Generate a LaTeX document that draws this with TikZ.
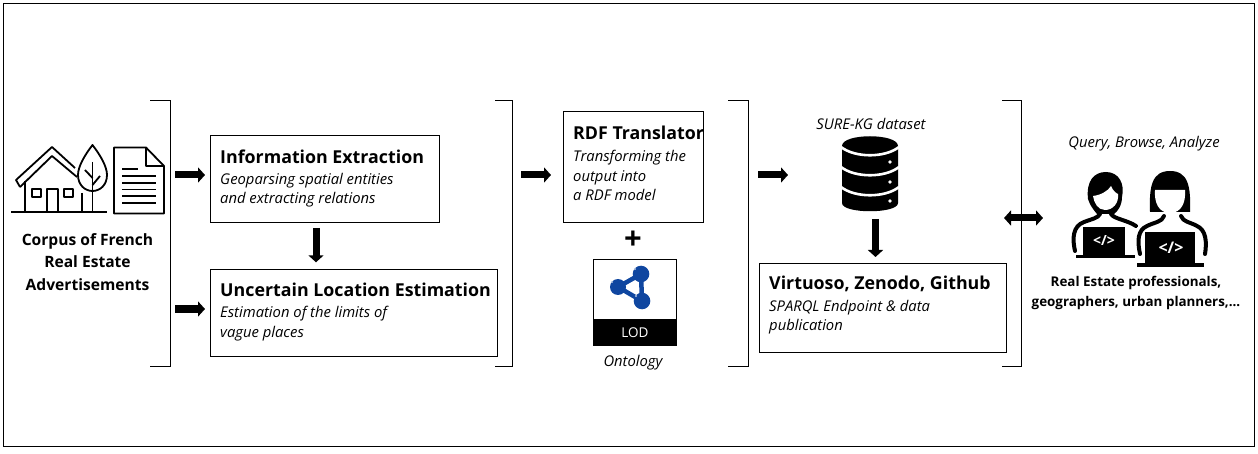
\documentclass[tikz,border=0pt]{standalone}
\usepackage{fontspec}
\setmainfont{Open Sans}
\usetikzlibrary{arrows.meta}
\tikzset{
 x=1pt,y=-1pt,
 boxn/.style={draw=black,line width=1.1pt,inner sep=0pt,anchor=north west},
 ttl/.style={anchor=west,inner sep=0pt,font=\fontsize{17.8}{20}\selectfont\bfseries},
 sub/.style={anchor=west,inner sep=0pt,align=left,font=\fontsize{14.8}{19.3}\selectfont\itshape},
 captxt/.style={inner sep=0pt,align=center,font=\fontsize{14.8}{19.5}\selectfont\itshape},
 boldtxt/.style={inner sep=0pt,align=center,font=\fontsize{15.6}{22.5}\selectfont\bfseries},
 brk/.style={draw=black,line width=0.9pt},
 blk/.style={draw=black,line width=7pt,-{Triangle[length=7pt,width=15pt]}},
 blkb/.style={draw=black,line width=7pt,{Triangle[length=7pt,width=15pt]}-{Triangle[length=7pt,width=15pt]}},
 ico/.style={draw=black,line width=1.8pt,line join=round},
 body/.style={draw=black,line width=4pt,line join=round,line cap=round},
}
\definecolor{lodblue}{RGB}{15,70,160}
\begin{document}
\begin{tikzpicture}
\useasboundingbox (0,0) rectangle (1258,454);
\fill[white] (0,0) rectangle (1258,454);
\draw[black,line width=1pt] (3.5,3.5) rectangle (1254,446);
% brackets
\draw[brk] (150,100) -- (170,100) -- (170,366) -- (150,366);
\draw[brk] (495,100) -- (512,100) -- (512,366) -- (495,366);
\draw[brk] (728,100) -- (748,100) -- (748,366) -- (728,366);
\draw[brk] (1002,100) -- (1021,100) -- (1021,366) -- (1002,366);
% boxes
\node[boxn,minimum width=228.5pt,minimum height=86.5pt] (ie) at (210,135.3) {};
\node[boxn,minimum width=287pt,minimum height=86.5pt] (ule) at (210,269.3) {};
\node[boxn,minimum width=139.5pt,minimum height=110.5pt] (rdf) at (563,111.3) {};
\node[boxn,minimum width=246.5pt,minimum height=88.5pt] (vir) at (759,263.3) {};
\node[ttl] (t1) at (220,157) {Information Extraction};
\node[sub] (s1) at (220,190.5) {Geoparsing spatial entities\\and extracting relations};
\node[ttl] (t2) at (220,290) {Uncertain Location Estimation};
\node[sub] (s2) at (220,323.5) {Estimation of the limits of\\vague places};
\node[ttl] (t3) at (573,133) {RDF Translator};
\node[sub] (s3) at (573,175.5) {Transforming the\\output into\\a RDF model};
\node[ttl] (t4) at (769,284) {Virtuoso, Zenodo, Github};
\node[sub] (s4) at (769,317) {SPARQL Endpoint \& data\\publication};
% captions
\node[boldtxt] (corpus) at (87.5,262) {Corpus of French\\Real Estate\\Advertisements};
\node[captxt] (sure) at (871,124) {SURE-KG dataset};
\node[captxt] (qba) at (1144,143.5) {Query, Browse, Analyze};
\node[captxt] (onto) at (633,362.5) {Ontology};
\node[inner sep=0pt,font=\fontsize{13.4}{20}\selectfont\bfseries,align=center] (users) at (1136,293) {Real Estate professionals,\\geographers, urban planners,...};
\node[inner sep=0pt,font=\fontsize{31}{31}\selectfont\bfseries] (plus) at (633,240) {+};
% LOD
\node[boxn,minimum width=83pt,minimum height=86pt] (lod) at (593,259.3) {};
\fill[black] (592.5,319) rectangle (677,346);
\node[inner sep=0pt,text=white,font=\fontsize{13.5}{15}\selectfont] (lodt) at (635,332.5) {LOD};
\draw[lodblue,line width=4.5pt,line join=round] (618,287) -- (641,274) -- (642,301) -- cycle;
\fill[lodblue] (618,287) circle (8pt) (641,274) circle (8.3pt) (642,301) circle (8.3pt);
\fill[white!70!lodblue] (612,282) circle (1.2pt) (635,269) circle (1.2pt) (636,296) circle (1.2pt);
% arrows
\coordinate (a1s) at (175,175); \coordinate (a2s) at (175,309);
\coordinate (a3s) at (521,175); \coordinate (a4s) at (758,175);
\coordinate (dbb) at (875.5,219); \coordinate (d1) at (316,228);
\coordinate (ds) at (1004,218); \coordinate (de) at (1043,218);
\draw[blk,shorten >=5pt] (a1s) -- (a1s -| ie.west);
\draw[blk,shorten >=5pt] (a2s) -- (a2s -| ule.west);
\draw[blk] (a3s) -- (551,175);
\draw[blk] (a4s) -- (788,175);
\draw[blk,shorten >=7pt] (d1) -- (d1 |- ule.north);
\draw[blk] (dbb) -- (875.5,257);
\draw[blkb] (ds) -- (de);
% house
\begin{scope}[ico]
\draw (11,212) -- (107,212);
\draw (20,187) -- (16,180) -- (52,147) -- (75,168);
\draw (20,187) -- (52,156) -- (77,177);
\draw (25,181) -- (25,212);
\draw (82,193) -- (82,212);
\draw (47,212) -- (47,189) -- (58,189) -- (58,212);
\draw (32,189) rectangle (41,197);
\draw (64,189) rectangle (73,197);
% tree
\draw (92.5,145) .. controls (84,156) and (78,167) .. (78,175) .. controls (78,185) and (85,191) .. (92.5,191) .. controls (100,191) and (107,185) .. (107,175) .. controls (107,167) and (101,156) .. (92.5,145) -- cycle;
\draw (92.5,162) -- (92.5,212);
\draw (85,170) -- (92.5,178);
\draw (100,176) -- (92.5,185);
% document
\draw (114,147.5) -- (146,147.5) -- (164,166) -- (164,213.5) -- (114,213.5) -- cycle;
\draw (146,147.5) -- (146,166) -- (164,166);
\draw[line width=1.3pt] (122,169) -- (138,169) (122,176) -- (156,176) (122,183) -- (156,183) (122,189.5) -- (156,189.5) (122,196) -- (156,196) (122,203) -- (156,203);
\end{scope}
% database
\fill[black] (842,146) .. controls (842,133) and (898,133) .. (898,146) -- (898,203) .. controls (898,214) and (842,214) .. (842,203) -- cycle;
\draw[white,line width=2.6pt] (841,147) .. controls (855,158) and (885,158) .. (899,147);
\draw[white,line width=2.6pt] (841,167) .. controls (855,178) and (885,178) .. (899,167);
\draw[white,line width=2.6pt] (841,187) .. controls (855,198) and (885,198) .. (899,187);
\fill[white] (890,162) circle (1.8pt) (890,182) circle (1.8pt) (890,201) circle (1.8pt);
% person left
\draw[body] (1075,251) .. controls (1072,238) and (1073,226) .. (1084,222) .. controls (1092,219) and (1098,218) .. (1100,214) (1111,214) .. controls (1114,219) and (1127,220) .. (1136,226);
\fill[black] (1088,199) .. controls (1086,181) and (1094,172) .. (1106,172) .. controls (1119,172) and (1125,184) .. (1122,197) .. controls (1122,206) and (1117,212) .. (1114,214) -- (1097,214) .. controls (1092,208) and (1090,205) .. (1088,199) -- cycle;
\fill[white] (1093,196) .. controls (1101,195) and (1108,191) .. (1111,186) .. controls (1113,191) and (1116,193) .. (1118,194) .. controls (1119,203) and (1113,210) .. (1105,210) .. controls (1098,210) and (1094,203) .. (1093,196) -- cycle;
\fill[black] (1083,227) rectangle (1125,255);
\fill[black] (1076,255) rectangle (1135,258.5);
\node[inner sep=0pt,text=white,font=\fontsize{14}{14}\selectfont\bfseries] (c1) at (1104,241) {</>};
% person right
\draw[white,line width=8pt] (1137,254) .. controls (1134,240) and (1137,230) .. (1146,226);
\draw[body] (1140,254) .. controls (1137,240) and (1138,230) .. (1147,226) .. controls (1155,222) and (1162,222) .. (1164,216) (1181,216) .. controls (1183,222) and (1190,222) .. (1197,226) .. controls (1206,230) and (1207,242) .. (1205,254);
\fill[black] (1150,212) .. controls (1149,186) and (1152,171) .. (1170,171) .. controls (1188,171) and (1191,186) .. (1190,212) -- cycle;
\fill[white] (1155,190) -- (1185,190) .. controls (1186,203) and (1181,213) .. (1170,213) .. controls (1159,213) and (1154,203) .. (1155,190) -- cycle;
\fill[black] (1145,232) rectangle (1195,263);
\fill[black] (1137,263) rectangle (1204,267);
\node[inner sep=0pt,text=white,font=\fontsize{16}{16}\selectfont\bfseries] (c2) at (1171,248) {</>};
\end{tikzpicture}
\end{document}
